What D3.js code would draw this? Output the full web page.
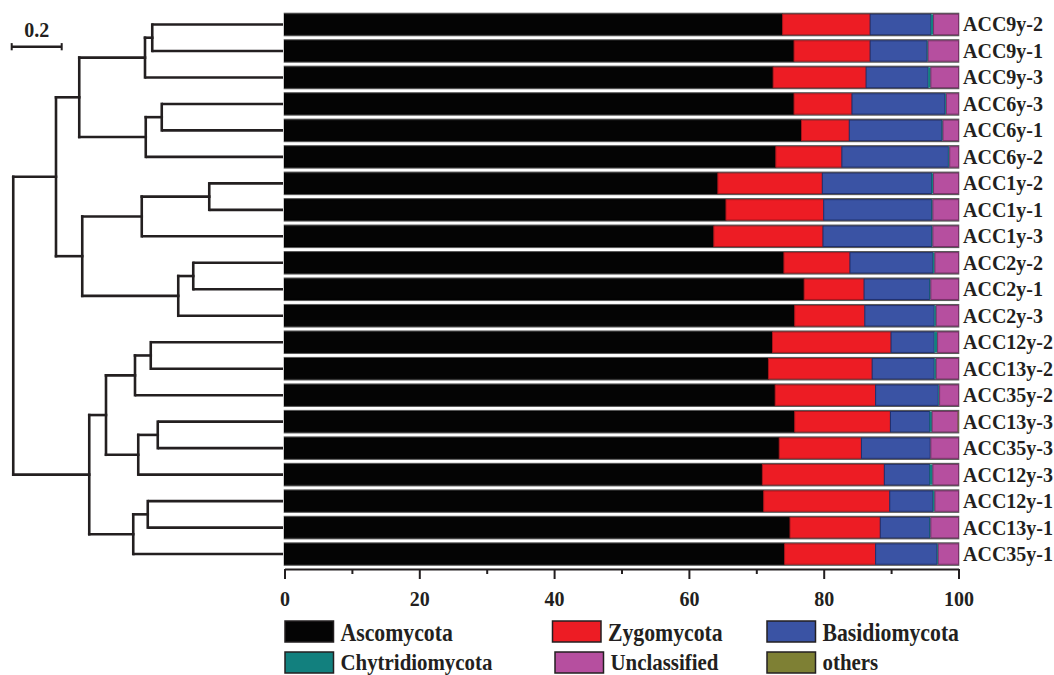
<!DOCTYPE html>
<html>
<head>
<meta charset="utf-8">
<script src="https://cdn.jsdelivr.net/npm/d3@7"></script>
<style>
  html, body { margin: 0; padding: 0; background: #fff; }
  svg { display: block; }
  text { font-family: "Liberation Serif", "Times New Roman", serif; font-weight: bold; fill: #231f20; }
</style>
</head>
<body>
<svg id="chart" width="1054" height="675"></svg>
<script>
// ---------------- DATA ----------------
const samples = ["ACC9y-2","ACC9y-1","ACC9y-3","ACC6y-3","ACC6y-1","ACC6y-2",
  "ACC1y-2","ACC1y-1","ACC1y-3","ACC2y-2","ACC2y-1","ACC2y-3",
  "ACC12y-2","ACC13y-2","ACC35y-2","ACC13y-3","ACC35y-3","ACC12y-3",
  "ACC12y-1","ACC13y-1","ACC35y-1"];

const phyla = ["Ascomycota","Zygomycota","Basidiomycota","Chytridiomycota","Unclassified","others"];

const ascomycota      = [73.9,75.6,72.5,75.6,76.7,72.9,64.3,65.5,63.7,74.1,77.1,75.7,72.4,71.8,72.8,75.7,73.4,70.9,71.1,75.0,74.2];
const zygomycota      = [13.0,11.3,13.8, 8.6, 7.1, 9.8,15.5,14.5,16.2, 9.8, 8.9,10.4,17.6,15.4,14.9,14.2,12.2,18.1,18.7,13.4,13.5];
const basidiomycota   = [ 9.0, 8.4, 9.2,13.8,13.7,15.8,16.2,16.0,16.1,12.3, 9.7,10.3, 6.4, 9.2, 9.3, 5.8,10.2, 6.7, 6.4, 7.3, 9.1];
const chytridiomycota = [ 0.4, 0.2, 0.4, 0.2, 0.2, 0.2, 0.3, 0.2, 0.2, 0.3, 0.2, 0.3, 0.5, 0.3, 0.2, 0.4, 0.1, 0.5, 0.3, 0.2, 0.2];
const unclassified    = [ 3.7, 4.5, 4.1, 1.8, 2.3, 1.3, 3.7, 3.8, 3.8, 3.5, 4.1, 3.3, 3.1, 3.3, 2.8, 3.8, 4.1, 3.8, 3.5, 4.1, 3.0];
const others          = [ 0.0, 0.0, 0.0, 0.0, 0.0, 0.0, 0.0, 0.0, 0.0, 0.0, 0.0, 0.0, 0.0, 0.0, 0.0, 0.1, 0.0, 0.0, 0.0, 0.0, 0.0];

const phylumColors = ["#040404","#ed1c24","#3a53a4","#12807e","#b64f9f","#7e8034"];
const phylumStrokes = ["#000000","#a8141a","#1f2f6e","#0a4f4e","#7a2f68","#4e5020"];

const xTicksMajor = [0,20,40,60,80,100];
const xTicksMinor = [10,30,50,70,90];

// hierarchical clustering merges: [node, childA, childB, height]
const clusterMerges = [
  ["n1","ACC9y-2","ACC9y-1",0.529],
  ["n2","n1","ACC9y-3",0.558],
  ["n3","ACC6y-3","ACC6y-1",0.491],
  ["n4","n3","ACC6y-2",0.555],
  ["n5","n2","n4",0.821],
  ["n6","ACC1y-2","ACC1y-1",0.301],
  ["n7","n6","ACC1y-3",0.571],
  ["n8","ACC2y-2","ACC2y-1",0.365],
  ["n9","n8","ACC2y-3",0.425],
  ["n10","n7","n9",0.809],
  ["n11","n5","n10",0.914],
  ["n12","ACC12y-2","ACC13y-2",0.535],
  ["n13","n12","ACC35y-2",0.598],
  ["n14","ACC13y-3","ACC35y-3",0.507],
  ["n15","n14","ACC12y-3",0.585],
  ["n16","n13","n15",0.714],
  ["n17","ACC12y-1","ACC13y-1",0.547],
  ["n18","n17","ACC35y-1",0.605],
  ["n19","n16","n18",0.781],
  ["root","n11","n19",1.085]
];
const scaleBarValue = 0.2;

// ---------------- LAYOUT ----------------
const svg = d3.select("#chart");
const seriesArrays = [ascomycota, zygomycota, basidiomycota, chytridiomycota, unclassified, others];
const table = samples.map((s, i) => {
  const row = { sample: s };
  phyla.forEach((p, j) => row[p] = seriesArrays[j][i]);
  return row;
});

const x = d3.scaleLinear().domain([0, 100]).range([284.5, 958.5]);
const y = d3.scaleBand().domain(samples).range([11.25, 567.3]).paddingInner(0.17).paddingOuter(0.085);
const color = d3.scaleOrdinal().domain(phyla).range(phylumColors);
const strokeC = d3.scaleOrdinal().domain(phyla).range(phylumStrokes);

// Tree
const xTree = d3.scaleLinear().domain([0, 1]).range([284.5, 34.5]);
const nodes = {};
samples.forEach(s => nodes[s] = { name: s, height: 0 });
clusterMerges.forEach(([n, a, b, h]) => nodes[n] = { name: n, height: h, children: [nodes[a], nodes[b]] });
const root = d3.hierarchy(nodes["root"]);
root.eachAfter(d => {
  if (!d.children) d.py = y(d.data.name) + y.bandwidth() / 2;
  else d.py = (d.children[0].py + d.children[d.children.length - 1].py) / 2;
  d.px = xTree(d.data.height);
});

const treeG = svg.append("g").attr("fill", "none").attr("stroke", "#231f20").attr("stroke-width", 2.6).attr("stroke-linecap", "square");
root.each(d => {
  if (!d.children) return;
  treeG.append("line").attr("x1", d.px).attr("x2", d.px)
    .attr("y1", d.children[0].py).attr("y2", d.children[d.children.length - 1].py);
  d.children.forEach(c => {
    treeG.append("line").attr("x1", d.px).attr("x2", c.px - (c.children ? 0 : 1.5))
      .attr("y1", c.py).attr("y2", c.py).attr("stroke-linecap", c.children ? "square" : "butt");
  });
});

// scale bar
const sbG = svg.append("g");
const sbX0 = 11.7, sbY = 46.7;
const sbW = xTree(0) - xTree(scaleBarValue);
sbG.append("line").attr("x1", sbX0).attr("x2", sbX0 + sbW).attr("y1", sbY).attr("y2", sbY)
  .attr("stroke", "#231f20").attr("stroke-width", 2.4);
[sbX0, sbX0 + sbW].forEach(xx => sbG.append("line").attr("x1", xx).attr("x2", xx)
  .attr("y1", sbY - 3.6).attr("y2", sbY + 3.6).attr("stroke", "#231f20").attr("stroke-width", 2));
sbG.append("text").attr("x", sbX0 + sbW / 2).attr("y", 36.8).attr("text-anchor", "middle")
  .style("font-size", "20px").text(String(scaleBarValue));

// Bars
const stacked = d3.stack().keys(phyla)(table);
const barsG = svg.append("g");
barsG.selectAll("rect.outline").data(samples).join("rect")
  .attr("class", "outline")
  .attr("x", x(0)).attr("y", d => y(d))
  .attr("width", x(100) - x(0)).attr("height", y.bandwidth())
  .attr("fill", "none").attr("stroke", "#5a5a5a").attr("stroke-width", 1.6);
stacked.forEach(layer => {
  barsG.append("g").selectAll("rect").data(layer).join("rect")
    .attr("x", d => x(d[0]))
    .attr("y", d => y(d.data.sample) + 0.8)
    .attr("width", d => Math.max(0, x(d[1]) - x(d[0])))
    .attr("height", y.bandwidth() - 1.6)
    .attr("fill", color(layer.key))
    .attr("stroke", strokeC(layer.key))
    .attr("stroke-width", d => (d[1] - d[0]) > 0.6 ? 1 : 0);
});

// Sample labels
svg.append("g").selectAll("text").data(samples).join("text")
  .attr("x", 963)
  .attr("y", d => y(d) + y.bandwidth() / 2 + 7)
  .style("font-size", "20px")
  .text(d => d);

// Axis
const axisY = 569;
const axG = svg.append("g").attr("transform", `translate(0,${axisY})`)
  .call(d3.axisBottom(x).tickValues(xTicksMajor).tickSize(10).tickPadding(12.5).tickSizeOuter(0));
axG.select(".domain").attr("stroke", "#231f20").attr("stroke-width", 2);
axG.selectAll(".tick line").attr("stroke", "#231f20").attr("stroke-width", 2);
axG.selectAll(".tick text").style("font-size", "20px").style("font-family", "'Liberation Serif', serif")
  .style("font-weight", "bold").attr("fill", "#231f20");
const axMinor = svg.append("g").attr("transform", `translate(0,${axisY})`)
  .call(d3.axisBottom(x).tickValues(xTicksMinor).tickSize(5).tickFormat(""));
axMinor.select(".domain").remove();
axMinor.selectAll(".tick line").attr("stroke", "#231f20").attr("stroke-width", 2);

// Legend
const legendCols = [285, 552.5, 767];
const legendRows = [621, 652];
const legG = svg.append("g");
phyla.forEach((p, i) => {
  const col = i % 3, row = Math.floor(i / 3);
  const cx = legendCols[col] + (col === 1 && row === 1 ? 2.5 : 0), cy = legendRows[row];
  legG.append("rect").attr("x", cx).attr("y", cy).attr("width", 48.5).attr("height", 21)
    .attr("fill", color(p)).attr("stroke", "#231f20").attr("stroke-width", 1.5);
  legG.append("text")
    .attr("transform", `translate(${cx + 55.5},${cy + (row === 0 ? 20 : 17.5)}) scale(0.87,1)`)
    .style("font-size", row === 0 ? "25px" : "24px").text(p);
});
</script>
</body>
</html>
